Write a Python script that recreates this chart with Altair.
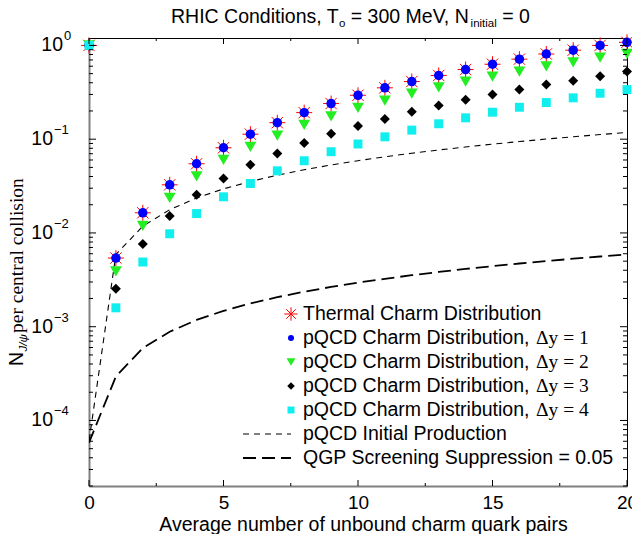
import altair as alt
import pandas as pd

# ---------------- data ----------------
n_pairs = list(range(21))
thermal = [1.0, 5.4e-3, 0.0164, 0.0326, 0.0547, 0.081, 0.113, 0.150, 0.192, 0.240,
           0.294, 0.353, 0.412, 0.478, 0.553, 0.63, 0.714, 0.81, 0.89, 1.0, 1.08]
pqcd_dy1 = [1.0, 5.4e-3, 0.0164, 0.0326, 0.0547, 0.081, 0.113, 0.150, 0.192, 0.240,
            0.294, 0.353, 0.412, 0.478, 0.553, 0.63, 0.714, 0.81, 0.89, 1.0, 1.08]
pqcd_dy2 = [1.0, 3.9e-3, 0.0119, 0.0237, 0.040, 0.060, 0.083, 0.109, 0.142, 0.175,
            0.216, 0.258, 0.306, 0.358, 0.41, 0.466, 0.527, 0.596, 0.66, 0.74, 0.815]
pqcd_dy3 = [1.0, 2.54e-3, 7.6e-3, 0.0152, 0.0256, 0.038, 0.0533, 0.0705, 0.091, 0.114,
            0.138, 0.164, 0.196, 0.228, 0.263, 0.30, 0.338, 0.383, 0.42, 0.47, 0.527]
pqcd_dy4 = [1.0, 1.59e-3, 4.9e-3, 9.8e-3, 0.0161, 0.0243, 0.0337, 0.046, 0.0589, 0.0735,
            0.0889, 0.106, 0.125, 0.146, 0.169, 0.194, 0.219, 0.246, 0.276, 0.309, 0.338]

line_x = list(range(21))
initial_prod = [6.0e-5, 0.0059, 0.0118, 0.0177, 0.0236, 0.0295, 0.0354, 0.0413, 0.0472,
                0.0531, 0.059, 0.0649, 0.0708, 0.0767, 0.0826, 0.0885, 0.0944, 0.1003,
                0.1062, 0.1121, 0.118]
qgp_supp = [5.8e-5, 2.95e-4, 5.9e-4, 8.85e-4, 1.18e-3, 1.475e-3, 1.77e-3, 2.065e-3,
            2.36e-3, 2.655e-3, 2.95e-3, 3.245e-3, 3.54e-3, 3.835e-3, 4.13e-3, 4.425e-3,
            4.72e-3, 5.015e-3, 5.31e-3, 5.605e-3, 5.9e-3]

x_major_ticks = [0, 5, 10, 15, 20]
x_minor_ticks = [2.5, 7.5, 12.5, 17.5]
y_decades = [1.0, 0.1, 0.01, 0.001, 0.0001]
y_exponents = ["0", "\u22121", "\u22122", "\u22123", "\u22124"]
y_minor_mult = [2, 3, 4, 5, 6, 7, 8, 9]
y_minor_decades = [1e-5, 1e-4, 1e-3, 1e-2, 1e-1]

legend_labels = ["Thermal Charm Distribution",
                 "pQCD Charm Distribution, ", "pQCD Charm Distribution, ",
                 "pQCD Charm Distribution, ", "pQCD Charm Distribution, ",
                 "pQCD Initial Production", "QGP Screening Suppression = 0.05"]
legend_suffix = ["", "\u0394y = 1", "\u0394y = 2", "\u0394y = 3", "\u0394y = 4", "", ""]

# ---------------- styling ----------------
SANS = "Liberation Sans"
SERIF = "Liberation Serif"
W, H = 538, 448
FS = 19.5
STAR = "M-1,0L1,0M0,-1L0,1M-0.71,-0.71L0.71,0.71M-0.71,0.71L0.71,-0.71"

xs = alt.Scale(domain=[0, 20], nice=False, zero=False)
ys = alt.Scale(type="log", domain=[2e-5, 1.2], nice=False)

X_AXIS = alt.Axis(
    values=x_major_ticks, ticks=False, tickSize=0, grid=False,
    labelFont=SANS, labelFontSize=19, labelColor="black",
    labelBaseline="alphabetic", labelPadding=22, labelFlush=False,
    domainColor="#808080", domainWidth=2,
    title="Average number of unbound charm quark pairs",
    titleFont=SANS, titleFontSize=FS, titleFontWeight="normal",
    titleColor="black", titleBaseline="alphabetic", titleY=44, titleX=274)
Y_AXIS = alt.Axis(
    labels=False, ticks=False, tickSize=0, grid=False, title=None,
    domainColor="#808080", domainWidth=2)


def XE(f):
    return alt.X(f, scale=xs, axis=X_AXIS)


def YE(f):
    return alt.Y(f, scale=ys, axis=Y_AXIS)


lines_df = pd.DataFrame({"x": line_x, "init": initial_prod, "qgp": qgp_supp})

layers = [
    alt.Chart(lines_df).mark_line(color="black", strokeWidth=1.1, strokeDash=[6, 5], clip=True)
    .encode(x=XE("x:Q"), y=YE("init:Q")),
    alt.Chart(lines_df).mark_line(color="black", strokeWidth=1.8, strokeDash=[13, 6], clip=True)
    .encode(x=XE("x:Q"), y=YE("qgp:Q")),
]

series = [
    (thermal, dict(shape=STAR, filled=False, stroke="#ff0000", strokeWidth=1, size=256, opacity=1)),
    (pqcd_dy1, dict(shape="circle", filled=True, color="#0000ff", size=90, opacity=1)),
    (pqcd_dy2, dict(shape="triangle-down", filled=True, color="#22ee22", size=140, opacity=1)),
    (pqcd_dy3, dict(shape="diamond", filled=True, color="#000000", size=100, opacity=1)),
    (pqcd_dy4, dict(shape="square", filled=True, color="#11eeee", size=80, opacity=1)),
]
for vals, style in series:
    df = pd.DataFrame({"x": n_pairs, "y": vals})
    layers.append(alt.Chart(df).mark_point(**style).encode(x=XE("x:Q"), y=YE("y:Q")))

# ---------------- inward ticks on all four sides ----------------
xmaj = pd.DataFrame({"x": x_major_ticks})
xmin = pd.DataFrame({"x": x_minor_ticks})
for df, ln in [(xmaj, 6), (xmin, 3)]:
    for y0, y1 in [(H, H - ln), (0, ln)]:
        layers.append(alt.Chart(df).mark_rule(color="black", strokeWidth=1).encode(
            x=XE("x:Q"), y=alt.value(y0), y2=alt.value(y1)))

ymaj = pd.DataFrame({"y": y_decades})
ymin = pd.DataFrame({"y": [m * d for d in y_minor_decades for m in y_minor_mult
                           if 2e-5 <= m * d <= 1.2]})
for df, ln in [(ymaj, 7), (ymin, 4)]:
    for x0, x1 in [(0, ln), (W, W - ln)]:
        layers.append(alt.Chart(df).mark_rule(color="black", strokeWidth=1).encode(
            y=YE("y:Q"), x=alt.value(x0), x2=alt.value(x1)))

# ---------------- y tick labels 10^n ----------------
ylab = pd.DataFrame({"y": y_decades, "e": y_exponents, "b": ["10"] * len(y_decades)})
for cond, bx in [("datum.y >= 0.5", -26), ("datum.y < 0.5", -36)]:
    layers.append(alt.Chart(ylab).transform_filter(cond).mark_text(
        align="right", baseline="middle", font=SANS, fontSize=FS, color="black"
    ).encode(y=YE("y:Q"), x=alt.value(bx), text="b:N"))
    layers.append(alt.Chart(ylab).transform_filter(cond).mark_text(
        align="left", baseline="middle", font=SANS, fontSize=13, dy=-9, color="black"
    ).encode(y=YE("y:Q"), x=alt.value(bx + 1), text="e:N"))

one = pd.DataFrame({"a": [0]})


def txt(s, x, y, font=SANS, size=FS, angle=0, style="normal", align="left",
        baseline="alphabetic"):
    return alt.Chart(one).mark_text(
        text=s, font=font, fontSize=size, angle=angle, fontStyle=style,
        align=align, baseline=baseline, color="black"
    ).encode(x=alt.value(x), y=alt.value(y))


# ---------------- title with subscripts ----------------
layers += [
    txt("RHIC Conditions, T", 82, -15.5),
    txt("o", 250.0, -11.5, size=11.5),
    txt("= 300 MeV, N", 261.8, -15.5),
    txt("initial", 381.6, -11.5, size=11.5),
    txt("= 0", 413.2, -15.5),
]

# ---------------- y axis title (rotated, mixed fonts) ----------------
layers += [
    txt("N", -66, 328, angle=270),
    txt("J/\u03c8", -62, 313.5, size=11.5, angle=270, style="italic"),
    txt("per central collision", -66, 295, font=SERIF, angle=270),
]

# ---------------- legend ----------------
rows = [276, 300, 324, 348, 372, 396, 420]
sym_x, txt_x, suf_x = 202, 214, 447
leg_styles = [
    dict(shape=STAR, filled=False, stroke="#ff0000", strokeWidth=1, size=180, opacity=1),
    dict(shape="circle", filled=True, color="#0000ff", size=36, opacity=1),
    dict(shape="triangle-down", filled=True, color="#22ee22", size=80, opacity=1),
    dict(shape="diamond", filled=True, color="#000000", size=56, opacity=1),
    dict(shape="square", filled=True, color="#11eeee", size=49, opacity=1),
]
for i, st in enumerate(leg_styles):
    layers.append(alt.Chart(one).mark_point(**st).encode(
        x=alt.value(sym_x), y=alt.value(rows[i])))
layers.append(alt.Chart(one).mark_rule(color="black", strokeWidth=1.1, strokeDash=[6, 5]).encode(
    x=alt.value(154), x2=alt.value(202), y=alt.value(rows[5])))
layers.append(alt.Chart(one).mark_rule(color="black", strokeWidth=1.8, strokeDash=[13, 6]).encode(
    x=alt.value(154), x2=alt.value(202), y=alt.value(rows[6])))
for i, lab in enumerate(legend_labels):
    layers.append(txt(lab.strip(), txt_x, rows[i], baseline="middle"))
    if legend_suffix[i]:
        layers.append(txt(legend_suffix[i], suf_x, rows[i], font=SERIF, baseline="middle"))

chart = alt.layer(*layers).properties(
    width=W, height=H, autosize=alt.AutoSizeParams(type="none"),
    padding={"left": 81, "top": 30, "right": 5, "bottom": 48},
    background="white",
).configure_view(stroke="black", strokeWidth=1)

chart.save("out.html", embed_options={"renderer": "svg", "actions": False})
